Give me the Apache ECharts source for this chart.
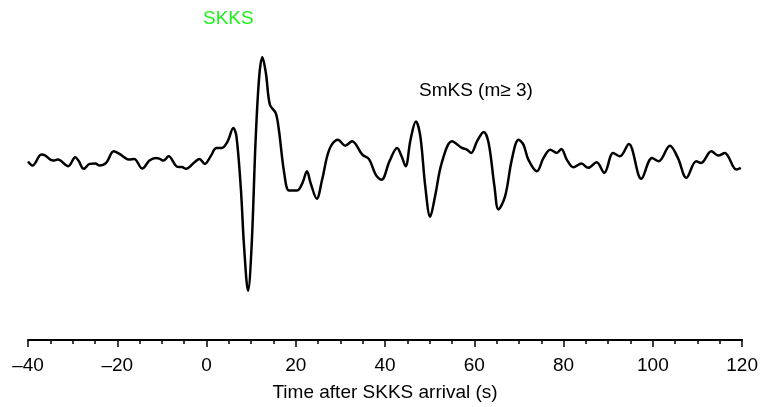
<!DOCTYPE html>
<html>
<head>
<meta charset="utf-8">
<script src="https://cdn.jsdelivr.net/npm/echarts@6/dist/echarts.min.js"></script>
<style>
  html, body { margin: 0; padding: 0; background: #fff; }
  #main { width: 761px; height: 407px; }
</style>
</head>
<body>
<div id="main"></div>
<script>
// trace samples: time (s) after SKKS arrival, relative amplitude
var times = [
  -40, -39, -37, -36.3, -34.4, -33.3, -31, -29.4, -28.7, -27.5, -26.2, -24.9, -24, -22.5,
  -20.8, -19.5, -17.3, -16.2, -14.4, -12.8, -11.3, -10.6, -9.6, -8.5, -6.5, -5.5, -4.6,
  -2.7, -1.6, -0.4, 1.0, 2.2, 3.4, 4.7, 6.0, 6.7, 7.7, 8.4, 9.3, 10.1, 11.0, 11.8, 12.5,
  13.3, 14.2, 15.5, 16.2, 17.4, 18.5, 20.3, 21.5, 22.5, 23.3, 24.7, 25.9, 27.5, 29.4,
  31.1, 32.6, 34.9, 36.4, 37.9, 39.2, 41.0, 42.7, 43.7, 44.6, 45.7, 46.9, 47.9, 49.0,
  50.1, 51.2, 52.7, 55.0, 57.2, 58.3, 59.3, 60.6, 62.1, 63.2, 64.5, 65.4, 66.9, 68.4,
  69.9, 71.0, 72.1, 74.0, 75.5, 77.0, 78.5, 79.5, 80.7, 82.2, 84.0, 85.5, 87.4, 89.1,
  91.1, 92.6, 94.6, 97.4, 99.8, 101.3, 103.8, 105.6, 107.5, 109.7, 110.8, 113.1, 114.7,
  116.1, 118.7, 119.7
];
var amps = [
  -2, -6, 5, 4.5, -1, 0, -6.7, 2.3, -1, -9.3, -4.3, -4, -6, -3.3,
  8.3, 5.7, 0, 0.7, -9, -1, 1.7, 1, -1, 3.3, -7.3, -7.5, -9.3,
  -2.7, 0.7, -4.3, 4, 11.7, 11.7, 18, 31.7, 23.3, -30, -86.7, -131.7, -86.7, 20, 83.3, 102.7,
  86.7, 55, 46.7, 30, -13.3, -31, -31, -23.3, -11.7, -23.3, -39.3, -20, 10, 20,
  14, 18.5, 5, 0.5, -15, -20.3, -1.5, 11.7, 3.3, -6.7, 20, 38.3, 23.3, -26.7,
  -57.3, -36.7, -3.3, 18.3, 11.7, 10, 6.7, 18.3, 27.7, 16.7, -26.7, -50, -36.7, 0,
  20, 15, 0, -11.7, 1.7, 10, 6.7, 10.7, 0, -7.7, -4, -8.3, -2.7, -13.3,
  6.7, 3.3, 15.7, -19.3, 1.7, -1.7, 14, 1.7, -18.3, -1.7, -3.3, 8.3, 4,
  6.7, -10, -8.3
];
var phaseLabels = ['SKKS', 'SmKS (m\u2265 3)'];
var xLabel = 'Time after SKKS arrival (s)';

var trace = [];
for (var i = 0; i < times.length; i++) {
    trace.push([times[i], amps[i]]);
}

var chart = echarts.init(document.getElementById('main'));
var font = 'Liberation Sans, Arial, Helvetica, sans-serif';

chart.setOption({
    backgroundColor: '#fff',
    animation: false,
    grid: { left: 28, right: 17, top: 40, bottom: 66, containLabel: false },
    xAxis: {
        type: 'value',
        min: -40,
        max: 120,
        interval: 20,
        name: xLabel,
        nameLocation: 'middle',
        nameGap: 43,
        nameTextStyle: { color: '#000', fontSize: 19, fontFamily: font },
        axisLine: { show: true, onZero: false, lineStyle: { color: '#000', width: 2 } },
        axisTick: { show: true, inside: false, length: 7, lineStyle: { color: '#000', width: 1.5 } },
        minorTick: { show: true, splitNumber: 4, length: 4, lineStyle: { color: '#000', width: 1.5 } },
        splitLine: { show: false },
        axisLabel: {
            color: '#000',
            fontSize: 19,
            fontFamily: font,
            margin: 16,
            formatter: function (v) { return v < 0 ? '\u2013' + Math.abs(v) : String(v); }
        }
    },
    yAxis: {
        type: 'value',
        min: -181,
        max: 120,
        show: false
    },
    graphic: [
        {
            type: 'text', left: 203, top: 9,
            style: { text: phaseLabels[0], fill: '#19f019', fontSize: 19, fontFamily: font }
        },
        {
            type: 'text', left: 419, top: 81,
            style: { text: phaseLabels[1], fill: '#000', fontSize: 19, fontFamily: font }
        }
    ],
    series: [{
        type: 'line',
        data: trace,
        smooth: 0.35,
        showSymbol: false,
        clip: false,
        lineStyle: { color: '#000', width: 2.5 }
    }]
});
</script>
</body>
</html>
